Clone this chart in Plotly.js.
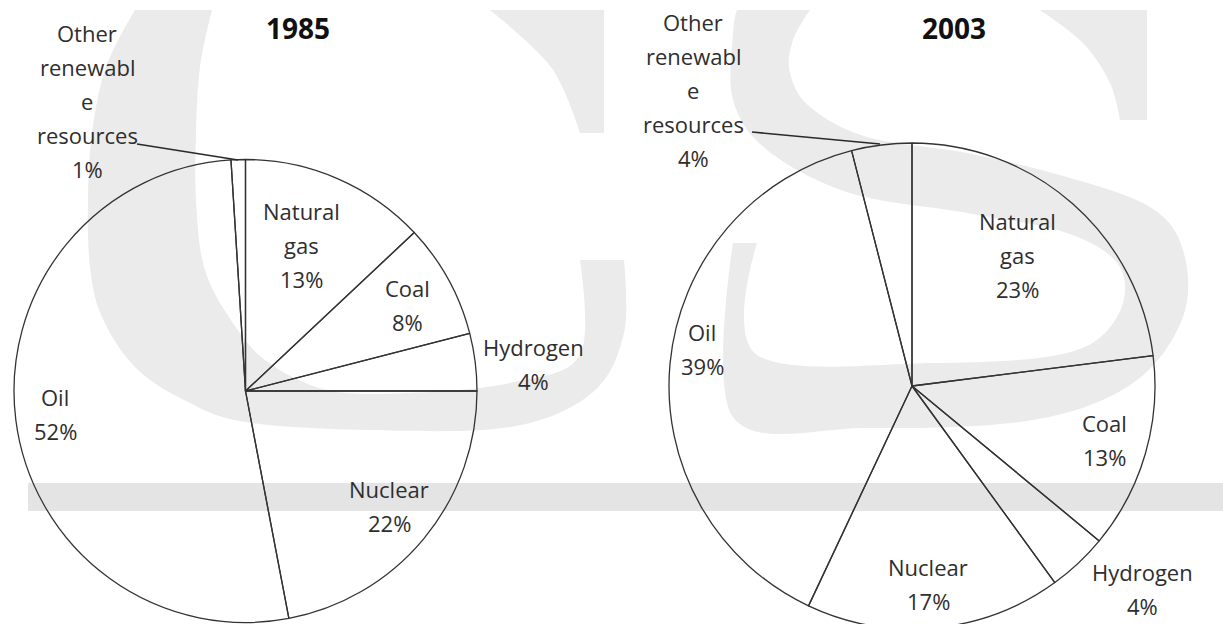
<!DOCTYPE html>
<html>
<head>
<meta charset="utf-8">
<script src="https://cdn.plot.ly/plotly-3.0.1.min.js"></script>
<style>
  html, body { margin: 0; padding: 0; background: #ffffff; overflow: hidden; }
  #chart { width: 1223px; height: 640px; }
</style>
</head>
<body>
<div id="chart"></div>
<script>
// ---- data ----
const years = ["1985", "2003"];
const categories = ["Natural gas", "Coal", "Hydrogen", "Nuclear", "Oil", "Other renewable resources"];
const values1985 = [13, 8, 4, 22, 52, 1];
const values2003 = [23, 13, 4, 17, 39, 4];
// label text as wrapped in the original
const labelLines = [["Natural", "gas"], ["Coal"], ["Hydrogen"], ["Nuclear"], ["Oil"], ["Other", "renewabl", "e", "resources"]];

// ---- layout config (pixels) ----
const W = 1223, H = 640;
const pies = [
  { cx: 245.5, cy: 391, r: 231.5, titleX: 298, titleY: 28,
    labelPos: [[301, 211], [408, 288], [533, 347], [389, 489], [55, 397], [87, 33]],
    leader: [[137, 144], [238, 160]] },
  { cx: 912, cy: 386, r: 243, titleX: 954, titleY: 28,
    labelPos: [[1017, 221], [1104, 423], [1142, 572], [928, 567], [702, 332], [693, 22]],
    leader: [[752, 132], [880, 144]] }
];
const LINE_GAP = 34;
const FONT = "'Open Sans', 'Noto Sans', sans-serif";
const valueSets = [values1985, values2003];

const px = x => x / W;
const py = y => 1 - y / H;

const traces = valueSets.map((vals, i) => {
  const p = pies[i];
  return {
    type: "pie",
    labels: categories,
    values: vals,
    sort: false,
    direction: "clockwise",
    rotation: 0,
    textinfo: "none",
    hoverinfo: "label+percent",
    showlegend: false,
    marker: {
      colors: categories.map(() => "rgba(255,255,255,0)"),
      line: { color: "#333333", width: 1.3 }
    },
    domain: {
      x: [px(p.cx - p.r), px(p.cx + p.r)],
      y: [py(p.cy + p.r), py(p.cy - p.r)]
    }
  };
});

const annotations = [];
const shapes = [];

// faint "CS" watermark and band, behind everything (third value 1 = sharp corner)
const WM = "#ebebeb";
const wmC = [[135,10,1],[106,67],[92,133],[88,200],[90,267],[102,317],[135,367],[184,400],[245,422],[367,430],
  [510,427],[592,393],[624,333],[624,260,1],[580,260,1],[580,355],[510,383],[408,393],[327,390],[265,360],
  [229,317],[204,267],[196,200],[196,133],[200,67],[212,10,1]];
const wmCTop = [[490,10,1],[604,10,1],[604,133,1],[580,133,1],[551,67]];
const wmS = [[737,10,1],[810,10,1],[793,40],[790,73],[810,107],[867,137],[967,153],[1067,177],[1150,207],
  [1183,250],[1183,317],[1133,383],[1033,420],[867,428],[733,417],[733,243,1],[757,243,1],[757,355],
  [933,363],[1067,353],[1117,317],[1120,267],[1067,233],[967,213],[850,193],[767,150],[733,100],[733,33]];
const wmSTop = [[1040,10,1],[1147,10,1],[1147,120,1],[1120,120,1],[1110,83],[1083,43]];
function smoothPath(pts) {
  const n = pts.length;
  const P = k => pts[(k + n) % n];
  const f = q => px(q[0]).toFixed(5) + "," + py(q[1]).toFixed(5);
  let d = "M" + f(P(0));
  for (let i = 0; i < n; i++) {
    const a = P(i - 1), b = P(i), c = P(i + 1), e = P(i + 2);
    const c1 = b[2] ? b : [b[0] + (c[0] - a[0]) / 6, b[1] + (c[1] - a[1]) / 6];
    const c2 = c[2] ? c : [c[0] - (e[0] - b[0]) / 6, c[1] - (e[1] - b[1]) / 6];
    d += " C" + f(c1) + " " + f(c2) + " " + f(c);
  }
  return d + " Z";
}
[wmC, wmCTop, wmS, wmSTop].forEach(pts => {
  shapes.push({ type: "path", xref: "paper", yref: "paper", layer: "below",
    path: smoothPath(pts), fillcolor: WM, line: { width: 0 } });
});
shapes.push({
  type: "rect", xref: "paper", yref: "paper", layer: "below",
  x0: px(28), x1: px(1223), y0: py(511), y1: py(483),
  fillcolor: "#e4e4e4", line: { width: 0 }
});

valueSets.forEach((vals, i) => {
  const p = pies[i];
  annotations.push({
    text: "<b>" + years[i] + "</b>", xref: "paper", yref: "paper",
    x: px(p.titleX), y: py(p.titleY), xanchor: "center", yanchor: "middle",
    showarrow: false, font: { family: FONT, size: 28, color: "#111111" }
  });
  categories.forEach((c, k) => {
    const lines = labelLines[k].concat([vals[k] + "%"]);
    const [lx, ly] = p.labelPos[k];
    lines.forEach((t, j) => {
      annotations.push({
        text: t, xref: "paper", yref: "paper",
        x: px(lx), y: py(ly + j * LINE_GAP), xanchor: "center", yanchor: "middle",
        showarrow: false, font: { family: FONT, size: 22, color: "#2e2e2e" }
      });
    });
  });
  shapes.push({
    type: "line", xref: "paper", yref: "paper", layer: "above",
    x0: px(p.leader[0][0]), y0: py(p.leader[0][1]),
    x1: px(p.leader[1][0]), y1: py(p.leader[1][1]),
    line: { color: "#2a2a2a", width: 1.6 }
  });
});

const layout = {
  width: W, height: H,
  margin: { l: 0, r: 0, t: 0, b: 0 },
  paper_bgcolor: "#ffffff",
  plot_bgcolor: "#ffffff",
  annotations: annotations,
  shapes: shapes,
  font: { family: FONT }
};

Plotly.newPlot("chart", traces, layout, { displayModeBar: false, staticPlot: true });
</script>
</body>
</html>
